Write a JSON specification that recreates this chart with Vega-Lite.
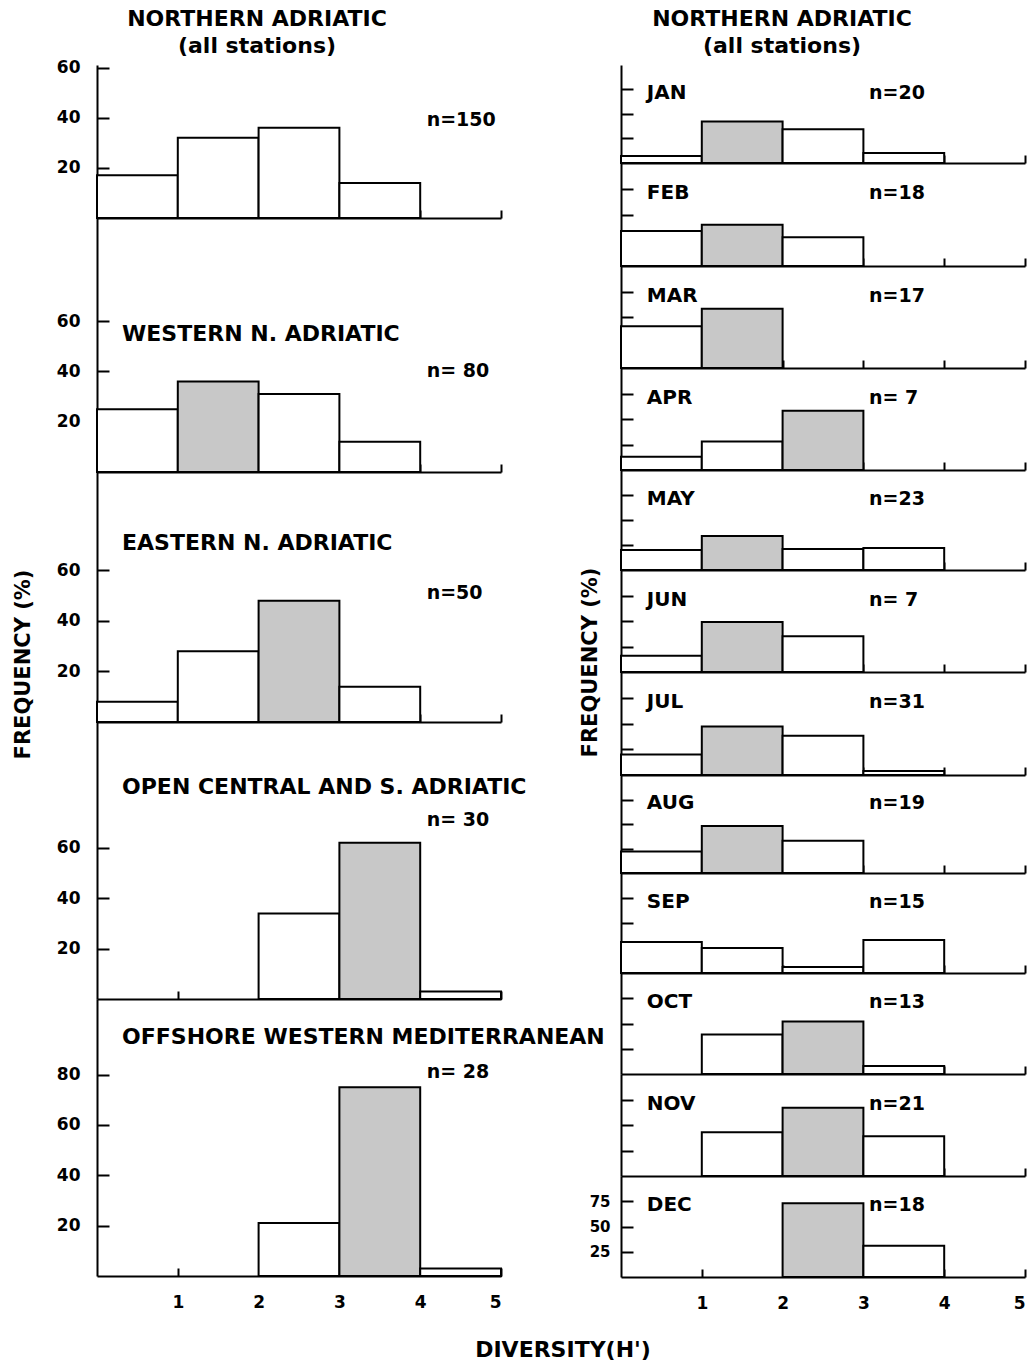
{
  "$schema": "https://vega.github.io/schema/vega-lite/v6.json",
  "padding": {"left": 12, "top": 7, "right": 5, "bottom": 5},
  "background": "white",
  "datasets": {
    "bars": [
      {"panel": "ALL", "h0": 0, "h1": 1, "freq": 17, "shade": "open"},
      {"panel": "ALL", "h0": 1, "h1": 2, "freq": 32, "shade": "open"},
      {"panel": "ALL", "h0": 2, "h1": 3, "freq": 36, "shade": "open"},
      {"panel": "ALL", "h0": 3, "h1": 4, "freq": 14, "shade": "open"},
      {"panel": "WEST", "h0": 0, "h1": 1, "freq": 25, "shade": "open"},
      {"panel": "WEST", "h0": 1, "h1": 2, "freq": 36, "shade": "stippled"},
      {"panel": "WEST", "h0": 2, "h1": 3, "freq": 31, "shade": "open"},
      {"panel": "WEST", "h0": 3, "h1": 4, "freq": 12, "shade": "open"},
      {"panel": "EAST", "h0": 0, "h1": 1, "freq": 8, "shade": "open"},
      {"panel": "EAST", "h0": 1, "h1": 2, "freq": 28, "shade": "open"},
      {"panel": "EAST", "h0": 2, "h1": 3, "freq": 48, "shade": "stippled"},
      {"panel": "EAST", "h0": 3, "h1": 4, "freq": 14, "shade": "open"},
      {"panel": "OPEN", "h0": 2, "h1": 3, "freq": 34, "shade": "open"},
      {"panel": "OPEN", "h0": 3, "h1": 4, "freq": 62, "shade": "stippled"},
      {"panel": "OPEN", "h0": 4, "h1": 5, "freq": 3, "shade": "open"},
      {"panel": "OFF", "h0": 2, "h1": 3, "freq": 21, "shade": "open"},
      {"panel": "OFF", "h0": 3, "h1": 4, "freq": 75, "shade": "stippled"},
      {"panel": "OFF", "h0": 4, "h1": 5, "freq": 3, "shade": "open"},
      {"panel": "JAN", "h0": 0, "h1": 1, "freq": 7, "shade": "open"},
      {"panel": "JAN", "h0": 1, "h1": 2, "freq": 42, "shade": "stippled"},
      {"panel": "JAN", "h0": 2, "h1": 3, "freq": 34, "shade": "open"},
      {"panel": "JAN", "h0": 3, "h1": 4, "freq": 10, "shade": "open"},
      {"panel": "FEB", "h0": 0, "h1": 1, "freq": 34, "shade": "open"},
      {"panel": "FEB", "h0": 1, "h1": 2, "freq": 40, "shade": "stippled"},
      {"panel": "FEB", "h0": 2, "h1": 3, "freq": 28, "shade": "open"},
      {"panel": "MAR", "h0": 0, "h1": 1, "freq": 41, "shade": "open"},
      {"panel": "MAR", "h0": 1, "h1": 2, "freq": 58, "shade": "stippled"},
      {"panel": "APR", "h0": 0, "h1": 1, "freq": 13, "shade": "open"},
      {"panel": "APR", "h0": 1, "h1": 2, "freq": 28, "shade": "open"},
      {"panel": "APR", "h0": 2, "h1": 3, "freq": 58, "shade": "stippled"},
      {"panel": "MAY", "h0": 0, "h1": 1, "freq": 20, "shade": "open"},
      {"panel": "MAY", "h0": 1, "h1": 2, "freq": 34, "shade": "stippled"},
      {"panel": "MAY", "h0": 2, "h1": 3, "freq": 21, "shade": "open"},
      {"panel": "MAY", "h0": 3, "h1": 4, "freq": 22, "shade": "open"},
      {"panel": "JUN", "h0": 0, "h1": 1, "freq": 16, "shade": "open"},
      {"panel": "JUN", "h0": 1, "h1": 2, "freq": 49, "shade": "stippled"},
      {"panel": "JUN", "h0": 2, "h1": 3, "freq": 35, "shade": "open"},
      {"panel": "JUL", "h0": 0, "h1": 1, "freq": 20, "shade": "open"},
      {"panel": "JUL", "h0": 1, "h1": 2, "freq": 47, "shade": "stippled"},
      {"panel": "JUL", "h0": 2, "h1": 3, "freq": 38, "shade": "open"},
      {"panel": "JUL", "h0": 3, "h1": 4, "freq": 4, "shade": "open"},
      {"panel": "AUG", "h0": 0, "h1": 1, "freq": 22, "shade": "open"},
      {"panel": "AUG", "h0": 1, "h1": 2, "freq": 48, "shade": "stippled"},
      {"panel": "AUG", "h0": 2, "h1": 3, "freq": 33, "shade": "open"},
      {"panel": "SEP", "h0": 0, "h1": 1, "freq": 31, "shade": "open"},
      {"panel": "SEP", "h0": 1, "h1": 2, "freq": 25, "shade": "open"},
      {"panel": "SEP", "h0": 2, "h1": 3, "freq": 6, "shade": "open"},
      {"panel": "SEP", "h0": 3, "h1": 4, "freq": 33, "shade": "open"},
      {"panel": "OCT", "h0": 1, "h1": 2, "freq": 39, "shade": "open"},
      {"panel": "OCT", "h0": 2, "h1": 3, "freq": 52, "shade": "stippled"},
      {"panel": "OCT", "h0": 3, "h1": 4, "freq": 8, "shade": "open"},
      {"panel": "NOV", "h0": 1, "h1": 2, "freq": 43, "shade": "open"},
      {"panel": "NOV", "h0": 2, "h1": 3, "freq": 67, "shade": "stippled"},
      {"panel": "NOV", "h0": 3, "h1": 4, "freq": 39, "shade": "open"},
      {"panel": "DEC", "h0": 2, "h1": 3, "freq": 73, "shade": "stippled"},
      {"panel": "DEC", "h0": 3, "h1": 4, "freq": 31, "shade": "open"}
    ],
    "labels": [
      {"panel": "ALL", "name": "", "n": "n=150"},
      {"panel": "WEST", "name": "WESTERN N. ADRIATIC", "n": "n= 80"},
      {"panel": "EAST", "name": "EASTERN N. ADRIATIC", "n": "n=50"},
      {"panel": "OPEN", "name": "OPEN CENTRAL AND S. ADRIATIC", "n": "n= 30"},
      {"panel": "OFF", "name": "OFFSHORE WESTERN MEDITERRANEAN", "n": "n= 28"},
      {"panel": "JAN", "name": "JAN", "n": "n=20"},
      {"panel": "FEB", "name": "FEB", "n": "n=18"},
      {"panel": "MAR", "name": "MAR", "n": "n=17"},
      {"panel": "APR", "name": "APR", "n": "n= 7"},
      {"panel": "MAY", "name": "MAY", "n": "n=23"},
      {"panel": "JUN", "name": "JUN", "n": "n= 7"},
      {"panel": "JUL", "name": "JUL", "n": "n=31"},
      {"panel": "AUG", "name": "AUG", "n": "n=19"},
      {"panel": "SEP", "name": "SEP", "n": "n=15"},
      {"panel": "OCT", "name": "OCT", "n": "n=13"},
      {"panel": "NOV", "name": "NOV", "n": "n=21"},
      {"panel": "DEC", "name": "DEC", "n": "n=18"}
    ]
  },
  "title": {"text": "DIVERSITY(H')", "orient": "bottom", "anchor": "middle", "fontSize": 22, "offset": 29, "dx": 44},
  "spacing": -27,
  "hconcat": [
    {
      "spacing": 0,
      "bounds": "flush",
      "vconcat": [
        {
          "width": 404, "height": 153,
          "title": {"text": ["NORTHERN ADRIATIC", "(all stations)"], "anchor": "middle", "dx": -42, "fontSize": 22, "lineHeight": 27, "offset": 1},
          "layer": [
            {"data": {"name": "bars"}, "transform": [{"filter": "datum.panel === 'ALL'"}],
             "mark": {"type": "bar", "stroke": "black", "strokeWidth": 2},
             "encoding": {
               "x": {"field": "h0", "type": "quantitative", "scale": {"domain": [0, 5], "nice": false, "zero": false}, "axis": {"values": [1, 2, 3, 4, 5], "labels": false, "tickSize": -8, "title": null}},
               "x2": {"field": "h1"},
               "y": {"field": "freq", "type": "quantitative", "scale": {"domain": [0, 61], "nice": false}, "axis": {"values": [20, 40, 60], "tickSize": -12, "labelPadding": 29, "title": null}},
               "y2": {"datum": 0},
               "fill": {"field": "shade", "type": "nominal", "scale": {"domain": ["open", "stippled"], "range": ["#ffffff", "#c8c8c8"]}, "legend": null}
             }},
            {"data": {"name": "labels"}, "transform": [{"filter": "datum.panel === 'ALL'"}],
             "mark": {"type": "text", "align": "left", "baseline": "middle", "fontSize": 19, "fontWeight": "bold"},
             "encoding": {"x": {"datum": 4.08, "type": "quantitative"}, "y": {"datum": 39, "type": "quantitative"}, "text": {"field": "n"}}}
          ]
        },
        {
          "width": 404, "height": 254,
          "layer": [
            {"data": {"name": "bars"}, "transform": [{"filter": "datum.panel === 'WEST'"}],
             "mark": {"type": "bar", "stroke": "black", "strokeWidth": 2},
             "encoding": {
               "x": {"field": "h0", "type": "quantitative", "scale": {"domain": [0, 5], "nice": false, "zero": false}, "axis": {"values": [1, 2, 3, 4, 5], "labels": false, "tickSize": -8, "title": null}},
               "x2": {"field": "h1"},
               "y": {"field": "freq", "type": "quantitative", "scale": {"domain": [0, 101], "nice": false}, "axis": {"values": [20, 40, 60], "tickSize": -12, "labelPadding": 29, "title": null}},
               "y2": {"datum": 0},
               "fill": {"field": "shade", "type": "nominal", "scale": {"domain": ["open", "stippled"], "range": ["#ffffff", "#c8c8c8"]}, "legend": null}
             }},
            {"data": {"name": "labels"}, "transform": [{"filter": "datum.panel === 'WEST'"}],
             "mark": {"type": "text", "align": "left", "baseline": "middle", "fontSize": 22, "fontWeight": "bold"},
             "encoding": {"x": {"datum": 0.31, "type": "quantitative"}, "y": {"datum": 55, "type": "quantitative"}, "text": {"field": "name"}}},
            {"data": {"name": "labels"}, "transform": [{"filter": "datum.panel === 'WEST'"}],
             "mark": {"type": "text", "align": "left", "baseline": "middle", "fontSize": 19, "fontWeight": "bold"},
             "encoding": {"x": {"datum": 4.08, "type": "quantitative"}, "y": {"datum": 40, "type": "quantitative"}, "text": {"field": "n"}}}
          ]
        },
        {
          "width": 404, "height": 250,
          "layer": [
            {"data": {"name": "bars"}, "transform": [{"filter": "datum.panel === 'EAST'"}],
             "mark": {"type": "bar", "stroke": "black", "strokeWidth": 2},
             "encoding": {
               "x": {"field": "h0", "type": "quantitative", "scale": {"domain": [0, 5], "nice": false, "zero": false}, "axis": {"values": [1, 2, 3, 4, 5], "labels": false, "tickSize": -8, "title": null}},
               "x2": {"field": "h1"},
               "y": {"field": "freq", "type": "quantitative", "scale": {"domain": [0, 99], "nice": false}, "axis": {"values": [20, 40, 60], "tickSize": -12, "labelPadding": 29, "title": "FREQUENCY (%)", "titleX": -74, "titleY": 192, "titleBaseline": "middle", "titleAlign": "center", "titleAngle": -90}},
               "y2": {"datum": 0},
               "fill": {"field": "shade", "type": "nominal", "scale": {"domain": ["open", "stippled"], "range": ["#ffffff", "#c8c8c8"]}, "legend": null}
             }},
            {"data": {"name": "labels"}, "transform": [{"filter": "datum.panel === 'EAST'"}],
             "mark": {"type": "text", "align": "left", "baseline": "middle", "fontSize": 22, "fontWeight": "bold"},
             "encoding": {"x": {"datum": 0.31, "type": "quantitative"}, "y": {"datum": 71, "type": "quantitative"}, "text": {"field": "name"}}},
            {"data": {"name": "labels"}, "transform": [{"filter": "datum.panel === 'EAST'"}],
             "mark": {"type": "text", "align": "left", "baseline": "middle", "fontSize": 19, "fontWeight": "bold"},
             "encoding": {"x": {"datum": 4.08, "type": "quantitative"}, "y": {"datum": 51, "type": "quantitative"}, "text": {"field": "n"}}}
          ]
        },
        {
          "width": 404, "height": 277,
          "layer": [
            {"data": {"name": "bars"}, "transform": [{"filter": "datum.panel === 'OPEN'"}],
             "mark": {"type": "bar", "stroke": "black", "strokeWidth": 2},
             "encoding": {
               "x": {"field": "h0", "type": "quantitative", "scale": {"domain": [0, 5], "nice": false, "zero": false}, "axis": {"values": [1, 2, 3, 4, 5], "labels": false, "tickSize": -8, "title": null}},
               "x2": {"field": "h1"},
               "y": {"field": "freq", "type": "quantitative", "scale": {"domain": [0, 110], "nice": false}, "axis": {"values": [20, 40, 60], "tickSize": -12, "labelPadding": 29, "title": null}},
               "y2": {"datum": 0},
               "fill": {"field": "shade", "type": "nominal", "scale": {"domain": ["open", "stippled"], "range": ["#ffffff", "#c8c8c8"]}, "legend": null}
             }},
            {"data": {"name": "labels"}, "transform": [{"filter": "datum.panel === 'OPEN'"}],
             "mark": {"type": "text", "align": "left", "baseline": "middle", "fontSize": 22, "fontWeight": "bold"},
             "encoding": {"x": {"datum": 0.31, "type": "quantitative"}, "y": {"datum": 84, "type": "quantitative"}, "text": {"field": "name"}}},
            {"data": {"name": "labels"}, "transform": [{"filter": "datum.panel === 'OPEN'"}],
             "mark": {"type": "text", "align": "left", "baseline": "middle", "fontSize": 19, "fontWeight": "bold"},
             "encoding": {"x": {"datum": 4.08, "type": "quantitative"}, "y": {"datum": 71, "type": "quantitative"}, "text": {"field": "n"}}}
          ]
        },
        {
          "width": 404, "height": 277,
          "layer": [
            {"data": {"name": "bars"}, "transform": [{"filter": "datum.panel === 'OFF'"}],
             "mark": {"type": "bar", "stroke": "black", "strokeWidth": 2},
             "encoding": {
               "x": {"field": "h0", "type": "quantitative", "scale": {"domain": [0, 5], "nice": false, "zero": false}, "axis": {"values": [1, 2, 3, 4, 5], "format": "d", "labels": true, "tickSize": -8, "labelPadding": 26, "title": null}},
               "x2": {"field": "h1"},
               "y": {"field": "freq", "type": "quantitative", "scale": {"domain": [0, 110], "nice": false}, "axis": {"values": [20, 40, 60, 80], "tickSize": -12, "labelPadding": 29, "title": null}},
               "y2": {"datum": 0},
               "fill": {"field": "shade", "type": "nominal", "scale": {"domain": ["open", "stippled"], "range": ["#ffffff", "#c8c8c8"]}, "legend": null}
             }},
            {"data": {"name": "labels"}, "transform": [{"filter": "datum.panel === 'OFF'"}],
             "mark": {"type": "text", "align": "left", "baseline": "middle", "fontSize": 22, "fontWeight": "bold"},
             "encoding": {"x": {"datum": 0.31, "type": "quantitative"}, "y": {"datum": 95, "type": "quantitative"}, "text": {"field": "name"}}},
            {"data": {"name": "labels"}, "transform": [{"filter": "datum.panel === 'OFF'"}],
             "mark": {"type": "text", "align": "left", "baseline": "middle", "fontSize": 19, "fontWeight": "bold"},
             "encoding": {"x": {"datum": 4.08, "type": "quantitative"}, "y": {"datum": 81, "type": "quantitative"}, "text": {"field": "n"}}}
          ]
        }
      ]
    },
    {
      "spacing": 0,
      "bounds": "flush",
      "vconcat": [
        {
          "width": 404, "height": 98,
          "title": {"text": ["NORTHERN ADRIATIC", "(all stations)"], "anchor": "middle", "dx": -41, "fontSize": 22, "lineHeight": 27, "offset": 7},
          "layer": [
            {"data": {"name": "bars"}, "transform": [{"filter": "datum.panel === 'JAN'"}], "mark": {"type": "bar", "stroke": "black", "strokeWidth": 2},
             "encoding": {"x": {"field": "h0", "type": "quantitative", "scale": {"domain": [0, 5], "nice": false, "zero": false}, "axis": {"values": [1, 2, 3, 4, 5], "labels": false, "tickSize": -8, "title": null}}, "x2": {"field": "h1"},
               "y": {"field": "freq", "type": "quantitative", "scale": {"domain": [0, 99], "nice": false}, "axis": {"values": [25, 50, 75], "labels": false, "tickSize": -12, "title": null}}, "y2": {"datum": 0},
               "fill": {"field": "shade", "type": "nominal", "scale": {"domain": ["open", "stippled"], "range": ["#ffffff", "#c8c8c8"]}, "legend": null}}},
            {"data": {"name": "labels"}, "transform": [{"filter": "datum.panel === 'JAN'"}], "mark": {"type": "text", "align": "left", "baseline": "middle", "fontSize": 20, "fontWeight": "bold"},
             "encoding": {"x": {"datum": 0.32, "type": "quantitative"}, "y": {"datum": 71, "type": "quantitative"}, "text": {"field": "name"}}},
            {"data": {"name": "labels"}, "transform": [{"filter": "datum.panel === 'JAN'"}], "mark": {"type": "text", "align": "left", "baseline": "middle", "fontSize": 19, "fontWeight": "bold"},
             "encoding": {"x": {"datum": 3.07, "type": "quantitative"}, "y": {"datum": 71, "type": "quantitative"}, "text": {"field": "n"}}}
          ]
        },
        {
          "width": 404, "height": 103,
          "layer": [
            {"data": {"name": "bars"}, "transform": [{"filter": "datum.panel === 'FEB'"}], "mark": {"type": "bar", "stroke": "black", "strokeWidth": 2},
             "encoding": {"x": {"field": "h0", "type": "quantitative", "scale": {"domain": [0, 5], "nice": false, "zero": false}, "axis": {"values": [1, 2, 3, 4, 5], "labels": false, "tickSize": -8, "title": null}}, "x2": {"field": "h1"},
               "y": {"field": "freq", "type": "quantitative", "scale": {"domain": [0, 100], "nice": false}, "axis": {"values": [25, 50, 75], "labels": false, "tickSize": -12, "title": null}}, "y2": {"datum": 0},
               "fill": {"field": "shade", "type": "nominal", "scale": {"domain": ["open", "stippled"], "range": ["#ffffff", "#c8c8c8"]}, "legend": null}}},
            {"data": {"name": "labels"}, "transform": [{"filter": "datum.panel === 'FEB'"}], "mark": {"type": "text", "align": "left", "baseline": "middle", "fontSize": 20, "fontWeight": "bold"},
             "encoding": {"x": {"datum": 0.32, "type": "quantitative"}, "y": {"datum": 71, "type": "quantitative"}, "text": {"field": "name"}}},
            {"data": {"name": "labels"}, "transform": [{"filter": "datum.panel === 'FEB'"}], "mark": {"type": "text", "align": "left", "baseline": "middle", "fontSize": 19, "fontWeight": "bold"},
             "encoding": {"x": {"datum": 3.07, "type": "quantitative"}, "y": {"datum": 71, "type": "quantitative"}, "text": {"field": "n"}}}
          ]
        },
        {
          "width": 404, "height": 102,
          "layer": [
            {"data": {"name": "bars"}, "transform": [{"filter": "datum.panel === 'MAR'"}], "mark": {"type": "bar", "stroke": "black", "strokeWidth": 2},
             "encoding": {"x": {"field": "h0", "type": "quantitative", "scale": {"domain": [0, 5], "nice": false, "zero": false}, "axis": {"values": [1, 2, 3, 4, 5], "labels": false, "tickSize": -8, "title": null}}, "x2": {"field": "h1"},
               "y": {"field": "freq", "type": "quantitative", "scale": {"domain": [0, 100], "nice": false}, "axis": {"values": [25, 50, 75], "labels": false, "tickSize": -12, "title": null}}, "y2": {"datum": 0},
               "fill": {"field": "shade", "type": "nominal", "scale": {"domain": ["open", "stippled"], "range": ["#ffffff", "#c8c8c8"]}, "legend": null}}},
            {"data": {"name": "labels"}, "transform": [{"filter": "datum.panel === 'MAR'"}], "mark": {"type": "text", "align": "left", "baseline": "middle", "fontSize": 20, "fontWeight": "bold"},
             "encoding": {"x": {"datum": 0.32, "type": "quantitative"}, "y": {"datum": 71, "type": "quantitative"}, "text": {"field": "name"}}},
            {"data": {"name": "labels"}, "transform": [{"filter": "datum.panel === 'MAR'"}], "mark": {"type": "text", "align": "left", "baseline": "middle", "fontSize": 19, "fontWeight": "bold"},
             "encoding": {"x": {"datum": 3.07, "type": "quantitative"}, "y": {"datum": 71, "type": "quantitative"}, "text": {"field": "n"}}}
          ]
        },
        {
          "width": 404, "height": 102,
          "layer": [
            {"data": {"name": "bars"}, "transform": [{"filter": "datum.panel === 'APR'"}], "mark": {"type": "bar", "stroke": "black", "strokeWidth": 2},
             "encoding": {"x": {"field": "h0", "type": "quantitative", "scale": {"domain": [0, 5], "nice": false, "zero": false}, "axis": {"values": [1, 2, 3, 4, 5], "labels": false, "tickSize": -8, "title": null}}, "x2": {"field": "h1"},
               "y": {"field": "freq", "type": "quantitative", "scale": {"domain": [0, 100], "nice": false}, "axis": {"values": [25, 50, 75], "labels": false, "tickSize": -12, "title": null}}, "y2": {"datum": 0},
               "fill": {"field": "shade", "type": "nominal", "scale": {"domain": ["open", "stippled"], "range": ["#ffffff", "#c8c8c8"]}, "legend": null}}},
            {"data": {"name": "labels"}, "transform": [{"filter": "datum.panel === 'APR'"}], "mark": {"type": "text", "align": "left", "baseline": "middle", "fontSize": 20, "fontWeight": "bold"},
             "encoding": {"x": {"datum": 0.32, "type": "quantitative"}, "y": {"datum": 71, "type": "quantitative"}, "text": {"field": "name"}}},
            {"data": {"name": "labels"}, "transform": [{"filter": "datum.panel === 'APR'"}], "mark": {"type": "text", "align": "left", "baseline": "middle", "fontSize": 19, "fontWeight": "bold"},
             "encoding": {"x": {"datum": 3.07, "type": "quantitative"}, "y": {"datum": 71, "type": "quantitative"}, "text": {"field": "n"}}}
          ]
        },
        {
          "width": 404, "height": 100,
          "layer": [
            {"data": {"name": "bars"}, "transform": [{"filter": "datum.panel === 'MAY'"}], "mark": {"type": "bar", "stroke": "black", "strokeWidth": 2},
             "encoding": {"x": {"field": "h0", "type": "quantitative", "scale": {"domain": [0, 5], "nice": false, "zero": false}, "axis": {"values": [1, 2, 3, 4, 5], "labels": false, "tickSize": -8, "title": null}}, "x2": {"field": "h1"},
               "y": {"field": "freq", "type": "quantitative", "scale": {"domain": [0, 100], "nice": false}, "axis": {"values": [25, 50, 75], "labels": false, "tickSize": -12, "title": null}}, "y2": {"datum": 0},
               "fill": {"field": "shade", "type": "nominal", "scale": {"domain": ["open", "stippled"], "range": ["#ffffff", "#c8c8c8"]}, "legend": null}}},
            {"data": {"name": "labels"}, "transform": [{"filter": "datum.panel === 'MAY'"}], "mark": {"type": "text", "align": "left", "baseline": "middle", "fontSize": 20, "fontWeight": "bold"},
             "encoding": {"x": {"datum": 0.32, "type": "quantitative"}, "y": {"datum": 71, "type": "quantitative"}, "text": {"field": "name"}}},
            {"data": {"name": "labels"}, "transform": [{"filter": "datum.panel === 'MAY'"}], "mark": {"type": "text", "align": "left", "baseline": "middle", "fontSize": 19, "fontWeight": "bold"},
             "encoding": {"x": {"datum": 3.07, "type": "quantitative"}, "y": {"datum": 71, "type": "quantitative"}, "text": {"field": "n"}}}
          ]
        },
        {
          "width": 404, "height": 102,
          "layer": [
            {"data": {"name": "bars"}, "transform": [{"filter": "datum.panel === 'JUN'"}], "mark": {"type": "bar", "stroke": "black", "strokeWidth": 2},
             "encoding": {"x": {"field": "h0", "type": "quantitative", "scale": {"domain": [0, 5], "nice": false, "zero": false}, "axis": {"values": [1, 2, 3, 4, 5], "labels": false, "tickSize": -8, "title": null}}, "x2": {"field": "h1"},
               "y": {"field": "freq", "type": "quantitative", "scale": {"domain": [0, 100], "nice": false}, "axis": {"values": [25, 50, 75], "labels": false, "tickSize": -12, "title": "FREQUENCY (%)", "titleX": -31, "titleY": 92, "titleBaseline": "middle", "titleAlign": "center", "titleAngle": -90}}, "y2": {"datum": 0},
               "fill": {"field": "shade", "type": "nominal", "scale": {"domain": ["open", "stippled"], "range": ["#ffffff", "#c8c8c8"]}, "legend": null}}},
            {"data": {"name": "labels"}, "transform": [{"filter": "datum.panel === 'JUN'"}], "mark": {"type": "text", "align": "left", "baseline": "middle", "fontSize": 20, "fontWeight": "bold"},
             "encoding": {"x": {"datum": 0.32, "type": "quantitative"}, "y": {"datum": 71, "type": "quantitative"}, "text": {"field": "name"}}},
            {"data": {"name": "labels"}, "transform": [{"filter": "datum.panel === 'JUN'"}], "mark": {"type": "text", "align": "left", "baseline": "middle", "fontSize": 19, "fontWeight": "bold"},
             "encoding": {"x": {"datum": 3.07, "type": "quantitative"}, "y": {"datum": 71, "type": "quantitative"}, "text": {"field": "n"}}}
          ]
        },
        {
          "width": 404, "height": 103,
          "layer": [
            {"data": {"name": "bars"}, "transform": [{"filter": "datum.panel === 'JUL'"}], "mark": {"type": "bar", "stroke": "black", "strokeWidth": 2},
             "encoding": {"x": {"field": "h0", "type": "quantitative", "scale": {"domain": [0, 5], "nice": false, "zero": false}, "axis": {"values": [1, 2, 3, 4, 5], "labels": false, "tickSize": -8, "title": null}}, "x2": {"field": "h1"},
               "y": {"field": "freq", "type": "quantitative", "scale": {"domain": [0, 100], "nice": false}, "axis": {"values": [25, 50, 75], "labels": false, "tickSize": -12, "title": null}}, "y2": {"datum": 0},
               "fill": {"field": "shade", "type": "nominal", "scale": {"domain": ["open", "stippled"], "range": ["#ffffff", "#c8c8c8"]}, "legend": null}}},
            {"data": {"name": "labels"}, "transform": [{"filter": "datum.panel === 'JUL'"}], "mark": {"type": "text", "align": "left", "baseline": "middle", "fontSize": 20, "fontWeight": "bold"},
             "encoding": {"x": {"datum": 0.32, "type": "quantitative"}, "y": {"datum": 71, "type": "quantitative"}, "text": {"field": "name"}}},
            {"data": {"name": "labels"}, "transform": [{"filter": "datum.panel === 'JUL'"}], "mark": {"type": "text", "align": "left", "baseline": "middle", "fontSize": 19, "fontWeight": "bold"},
             "encoding": {"x": {"datum": 3.07, "type": "quantitative"}, "y": {"datum": 71, "type": "quantitative"}, "text": {"field": "n"}}}
          ]
        },
        {
          "width": 404, "height": 98,
          "layer": [
            {"data": {"name": "bars"}, "transform": [{"filter": "datum.panel === 'AUG'"}], "mark": {"type": "bar", "stroke": "black", "strokeWidth": 2},
             "encoding": {"x": {"field": "h0", "type": "quantitative", "scale": {"domain": [0, 5], "nice": false, "zero": false}, "axis": {"values": [1, 2, 3, 4, 5], "labels": false, "tickSize": -8, "title": null}}, "x2": {"field": "h1"},
               "y": {"field": "freq", "type": "quantitative", "scale": {"domain": [0, 100], "nice": false}, "axis": {"values": [25, 50, 75], "labels": false, "tickSize": -12, "title": null}}, "y2": {"datum": 0},
               "fill": {"field": "shade", "type": "nominal", "scale": {"domain": ["open", "stippled"], "range": ["#ffffff", "#c8c8c8"]}, "legend": null}}},
            {"data": {"name": "labels"}, "transform": [{"filter": "datum.panel === 'AUG'"}], "mark": {"type": "text", "align": "left", "baseline": "middle", "fontSize": 20, "fontWeight": "bold"},
             "encoding": {"x": {"datum": 0.32, "type": "quantitative"}, "y": {"datum": 71, "type": "quantitative"}, "text": {"field": "name"}}},
            {"data": {"name": "labels"}, "transform": [{"filter": "datum.panel === 'AUG'"}], "mark": {"type": "text", "align": "left", "baseline": "middle", "fontSize": 19, "fontWeight": "bold"},
             "encoding": {"x": {"datum": 3.07, "type": "quantitative"}, "y": {"datum": 71, "type": "quantitative"}, "text": {"field": "n"}}}
          ]
        },
        {
          "width": 404, "height": 100,
          "layer": [
            {"data": {"name": "bars"}, "transform": [{"filter": "datum.panel === 'SEP'"}], "mark": {"type": "bar", "stroke": "black", "strokeWidth": 2},
             "encoding": {"x": {"field": "h0", "type": "quantitative", "scale": {"domain": [0, 5], "nice": false, "zero": false}, "axis": {"values": [1, 2, 3, 4, 5], "labels": false, "tickSize": -8, "title": null}}, "x2": {"field": "h1"},
               "y": {"field": "freq", "type": "quantitative", "scale": {"domain": [0, 100], "nice": false}, "axis": {"values": [25, 50, 75], "labels": false, "tickSize": -12, "title": null}}, "y2": {"datum": 0},
               "fill": {"field": "shade", "type": "nominal", "scale": {"domain": ["open", "stippled"], "range": ["#ffffff", "#c8c8c8"]}, "legend": null}}},
            {"data": {"name": "labels"}, "transform": [{"filter": "datum.panel === 'SEP'"}], "mark": {"type": "text", "align": "left", "baseline": "middle", "fontSize": 20, "fontWeight": "bold"},
             "encoding": {"x": {"datum": 0.32, "type": "quantitative"}, "y": {"datum": 71, "type": "quantitative"}, "text": {"field": "name"}}},
            {"data": {"name": "labels"}, "transform": [{"filter": "datum.panel === 'SEP'"}], "mark": {"type": "text", "align": "left", "baseline": "middle", "fontSize": 19, "fontWeight": "bold"},
             "encoding": {"x": {"datum": 3.07, "type": "quantitative"}, "y": {"datum": 71, "type": "quantitative"}, "text": {"field": "n"}}}
          ]
        },
        {
          "width": 404, "height": 101,
          "layer": [
            {"data": {"name": "bars"}, "transform": [{"filter": "datum.panel === 'OCT'"}], "mark": {"type": "bar", "stroke": "black", "strokeWidth": 2},
             "encoding": {"x": {"field": "h0", "type": "quantitative", "scale": {"domain": [0, 5], "nice": false, "zero": false}, "axis": {"values": [1, 2, 3, 4, 5], "labels": false, "tickSize": -8, "title": null}}, "x2": {"field": "h1"},
               "y": {"field": "freq", "type": "quantitative", "scale": {"domain": [0, 100], "nice": false}, "axis": {"values": [25, 50, 75], "labels": false, "tickSize": -12, "title": null}}, "y2": {"datum": 0},
               "fill": {"field": "shade", "type": "nominal", "scale": {"domain": ["open", "stippled"], "range": ["#ffffff", "#c8c8c8"]}, "legend": null}}},
            {"data": {"name": "labels"}, "transform": [{"filter": "datum.panel === 'OCT'"}], "mark": {"type": "text", "align": "left", "baseline": "middle", "fontSize": 20, "fontWeight": "bold"},
             "encoding": {"x": {"datum": 0.32, "type": "quantitative"}, "y": {"datum": 71, "type": "quantitative"}, "text": {"field": "name"}}},
            {"data": {"name": "labels"}, "transform": [{"filter": "datum.panel === 'OCT'"}], "mark": {"type": "text", "align": "left", "baseline": "middle", "fontSize": 19, "fontWeight": "bold"},
             "encoding": {"x": {"datum": 3.07, "type": "quantitative"}, "y": {"datum": 71, "type": "quantitative"}, "text": {"field": "n"}}}
          ]
        },
        {
          "width": 404, "height": 102,
          "layer": [
            {"data": {"name": "bars"}, "transform": [{"filter": "datum.panel === 'NOV'"}], "mark": {"type": "bar", "stroke": "black", "strokeWidth": 2},
             "encoding": {"x": {"field": "h0", "type": "quantitative", "scale": {"domain": [0, 5], "nice": false, "zero": false}, "axis": {"values": [1, 2, 3, 4, 5], "labels": false, "tickSize": -8, "title": null}}, "x2": {"field": "h1"},
               "y": {"field": "freq", "type": "quantitative", "scale": {"domain": [0, 100], "nice": false}, "axis": {"values": [25, 50, 75], "labels": false, "tickSize": -12, "title": null}}, "y2": {"datum": 0},
               "fill": {"field": "shade", "type": "nominal", "scale": {"domain": ["open", "stippled"], "range": ["#ffffff", "#c8c8c8"]}, "legend": null}}},
            {"data": {"name": "labels"}, "transform": [{"filter": "datum.panel === 'NOV'"}], "mark": {"type": "text", "align": "left", "baseline": "middle", "fontSize": 20, "fontWeight": "bold"},
             "encoding": {"x": {"datum": 0.32, "type": "quantitative"}, "y": {"datum": 71, "type": "quantitative"}, "text": {"field": "name"}}},
            {"data": {"name": "labels"}, "transform": [{"filter": "datum.panel === 'NOV'"}], "mark": {"type": "text", "align": "left", "baseline": "middle", "fontSize": 19, "fontWeight": "bold"},
             "encoding": {"x": {"datum": 3.07, "type": "quantitative"}, "y": {"datum": 71, "type": "quantitative"}, "text": {"field": "n"}}}
          ]
        },
        {
          "width": 404, "height": 101,
          "layer": [
            {"data": {"name": "bars"}, "transform": [{"filter": "datum.panel === 'DEC'"}], "mark": {"type": "bar", "stroke": "black", "strokeWidth": 2},
             "encoding": {"x": {"field": "h0", "type": "quantitative", "scale": {"domain": [0, 5], "nice": false, "zero": false}, "axis": {"values": [1, 2, 3, 4, 5], "format": "d", "labels": true, "tickSize": -8, "labelPadding": 26, "title": null}}, "x2": {"field": "h1"},
               "y": {"field": "freq", "type": "quantitative", "scale": {"domain": [0, 100], "nice": false}, "axis": {"values": [25, 50, 75], "labels": true, "labelFontSize": 15, "labelPadding": 23, "tickSize": -12, "title": null}}, "y2": {"datum": 0},
               "fill": {"field": "shade", "type": "nominal", "scale": {"domain": ["open", "stippled"], "range": ["#ffffff", "#c8c8c8"]}, "legend": null}}},
            {"data": {"name": "labels"}, "transform": [{"filter": "datum.panel === 'DEC'"}], "mark": {"type": "text", "align": "left", "baseline": "middle", "fontSize": 20, "fontWeight": "bold"},
             "encoding": {"x": {"datum": 0.32, "type": "quantitative"}, "y": {"datum": 71, "type": "quantitative"}, "text": {"field": "name"}}},
            {"data": {"name": "labels"}, "transform": [{"filter": "datum.panel === 'DEC'"}], "mark": {"type": "text", "align": "left", "baseline": "middle", "fontSize": 19, "fontWeight": "bold"},
             "encoding": {"x": {"datum": 3.07, "type": "quantitative"}, "y": {"datum": 71, "type": "quantitative"}, "text": {"field": "n"}}}
          ]
        }
      ]
    }
  ],
  "config": {
    "view": {"stroke": null},
    "font": "DejaVu Sans",
    "text": {"color": "black", "font": "DejaVu Sans"},
    "title": {"font": "DejaVu Sans", "fontWeight": "bold", "color": "black"},
    "axis": {
      "domainColor": "black", "domainWidth": 2, "tickColor": "black", "tickWidth": 2,
      "labelColor": "black", "labelFont": "DejaVu Sans", "labelFontWeight": "bold", "labelFontSize": 17,
      "grid": false, "titleFont": "DejaVu Sans", "titleFontWeight": "bold", "titleColor": "black", "titleFontSize": 21
    }
  }
}
